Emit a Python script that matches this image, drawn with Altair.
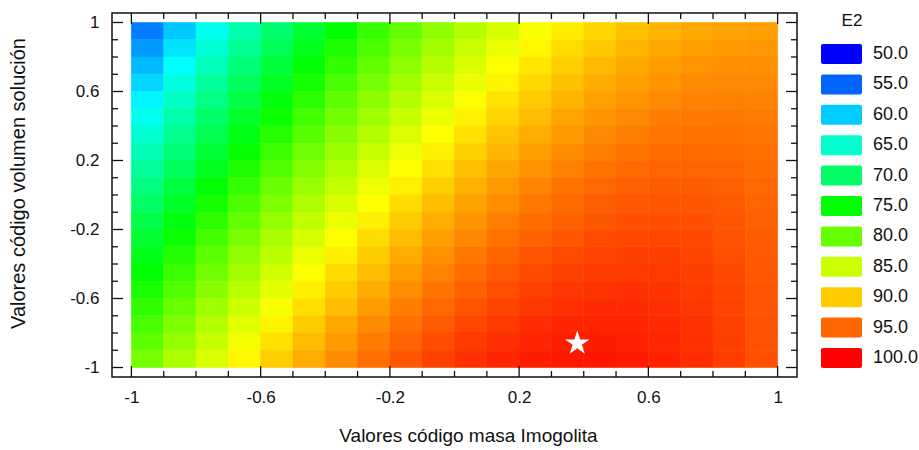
import altair as alt
import pandas as pd

# ---------------- data ----------------
x_centers = [-0.95, -0.85, -0.75, -0.65, -0.55, -0.45, -0.35, -0.25, -0.15, -0.05,
             0.05, 0.15, 0.25, 0.35, 0.45, 0.55, 0.65, 0.75, 0.85, 0.95]
y_centers = [0.95, 0.85, 0.75, 0.65, 0.55, 0.45, 0.35, 0.25, 0.15, 0.05,
             -0.05, -0.15, -0.25, -0.35, -0.45, -0.55, -0.65, -0.75, -0.85, -0.95]
e2_rows = [
    [56.2, 59.8, 63.3, 66.5, 69.6, 72.5, 75.1, 77.6, 79.9, 82.0, 83.9, 85.6, 87.1, 88.4, 89.5, 90.5, 91.2, 91.7, 92.1, 92.2],
    [57.6, 61.2, 64.6, 67.8, 70.8, 73.7, 76.3, 78.7, 80.9, 83.0, 84.8, 86.4, 87.9, 89.2, 90.2, 91.1, 91.7, 92.2, 92.5, 92.6],
    [59.1, 62.6, 66.0, 69.1, 72.1, 74.8, 77.4, 79.8, 81.9, 83.9, 85.7, 87.3, 88.7, 89.9, 90.9, 91.7, 92.3, 92.7, 92.9, 92.9],
    [60.5, 64.0, 67.3, 70.4, 73.3, 76.0, 78.5, 80.8, 82.9, 84.8, 86.5, 88.1, 89.4, 90.5, 91.5, 92.2, 92.8, 93.2, 93.3, 93.3],
    [62.0, 65.4, 68.6, 71.6, 74.5, 77.1, 79.6, 81.8, 83.9, 85.7, 87.4, 88.9, 90.1, 91.2, 92.1, 92.8, 93.3, 93.6, 93.7, 93.6],
    [63.3, 66.7, 69.9, 72.9, 75.6, 78.2, 80.6, 82.8, 84.8, 86.6, 88.2, 89.6, 90.8, 91.9, 92.7, 93.3, 93.8, 94.0, 94.1, 93.9],
    [64.7, 68.0, 71.1, 74.1, 76.8, 79.3, 81.6, 83.8, 85.7, 87.5, 89.0, 90.4, 91.5, 92.5, 93.3, 93.8, 94.2, 94.4, 94.4, 94.2],
    [66.1, 69.3, 72.4, 75.2, 77.9, 80.4, 82.6, 84.7, 86.6, 88.3, 89.8, 91.1, 92.2, 93.1, 93.8, 94.3, 94.7, 94.8, 94.7, 94.5],
    [67.4, 70.6, 73.6, 76.4, 79.0, 81.4, 83.6, 85.7, 87.5, 89.1, 90.6, 91.8, 92.8, 93.7, 94.3, 94.8, 95.1, 95.1, 95.0, 94.7],
    [68.7, 71.9, 74.8, 77.5, 80.1, 82.5, 84.6, 86.6, 88.3, 89.9, 91.3, 92.5, 93.5, 94.3, 94.9, 95.3, 95.5, 95.5, 95.3, 94.9],
    [70.0, 73.1, 76.0, 78.7, 81.2, 83.5, 85.6, 87.5, 89.2, 90.7, 92.0, 93.1, 94.1, 94.8, 95.4, 95.7, 95.8, 95.8, 95.6, 95.1],
    [71.3, 74.3, 77.1, 79.8, 82.2, 84.4, 86.5, 88.3, 90.0, 91.5, 92.7, 93.8, 94.7, 95.3, 95.8, 96.1, 96.2, 96.1, 95.8, 95.3],
    [72.6, 75.5, 78.3, 80.9, 83.2, 85.4, 87.4, 89.2, 90.8, 92.2, 93.4, 94.4, 95.2, 95.8, 96.3, 96.5, 96.5, 96.4, 96.0, 95.5],
    [73.8, 76.7, 79.4, 81.9, 84.2, 86.4, 88.3, 90.0, 91.6, 92.9, 94.1, 95.0, 95.8, 96.3, 96.7, 96.9, 96.9, 96.6, 96.2, 95.6],
    [75.0, 77.9, 80.5, 83.0, 85.2, 87.3, 89.2, 90.8, 92.3, 93.6, 94.7, 95.6, 96.3, 96.8, 97.1, 97.2, 97.2, 96.9, 96.4, 95.7],
    [76.2, 79.0, 81.6, 84.0, 86.2, 88.2, 90.0, 91.6, 93.1, 94.3, 95.3, 96.2, 96.8, 97.3, 97.5, 97.6, 97.4, 97.1, 96.6, 95.9],
    [77.4, 80.1, 82.7, 85.0, 87.1, 89.1, 90.8, 92.4, 93.8, 94.9, 95.9, 96.7, 97.3, 97.7, 97.9, 97.9, 97.7, 97.3, 96.7, 95.9],
    [78.5, 81.2, 83.7, 86.0, 88.1, 90.0, 91.7, 93.2, 94.5, 95.6, 96.5, 97.2, 97.8, 98.1, 98.2, 98.2, 97.9, 97.5, 96.8, 96.0],
    [79.7, 82.3, 84.7, 86.9, 89.0, 90.8, 92.4, 93.9, 95.1, 96.2, 97.1, 97.7, 98.2, 98.5, 98.6, 98.4, 98.1, 97.6, 96.9, 96.0],
    [80.8, 83.4, 85.7, 87.9, 89.9, 91.6, 93.2, 94.6, 95.8, 96.8, 97.6, 98.2, 98.6, 98.8, 98.9, 98.7, 98.3, 97.8, 97.0, 96.1],
]
legend_values = [50, 55, 60, 65, 70, 75, 80, 85, 90, 95, 100]
legend_colors = ["#0000FF", "#0066FF", "#00CCFF", "#00FFCC", "#00FF66", "#00FF00",
                 "#66FF00", "#CCFF00", "#FFCC00", "#FF6600", "#FF0000"]
major_ticks = [-1, -0.6, -0.2, 0.2, 0.6, 1]
minor_ticks = [-0.9, -0.8, -0.7, -0.5, -0.4, -0.3, -0.1, 0, 0.1, 0.3, 0.4, 0.5, 0.7, 0.8, 0.9]
star_x = [0.38]
star_y = [-0.86]
legend_title = ["E2"]

# ---------------- build tables ----------------
rows = []
for yi, yv in enumerate(y_centers):
    for xi, xv in enumerate(x_centers):
        rows.append({"x": xv, "y": yv, "E2": e2_rows[yi][xi]})
grid = pd.DataFrame(rows)
leg_df = pd.DataFrame({"lv": legend_values})
major_df = pd.DataFrame({"t": major_ticks})
minor_df = pd.DataFrame({"t": minor_ticks})
star_df = pd.DataFrame({"sx": star_x, "sy": star_y})
title_df = pd.DataFrame({"t": legend_title})

W, H = 685, 364
FONT = "Liberation Sans"
xs = alt.Scale(domain=[-1.06, 1.06], nice=False, zero=False)
ys = alt.Scale(domain=[-1.055, 1.055], nice=False, zero=False)
cscale = alt.Scale(domain=legend_values, range=legend_colors, interpolate="hsl")

x_axis = alt.Axis(
    values=major_ticks, labelExpr="'' + datum.value", ticks=False, tickSize=0,
    domain=False, grid=False, labelFont=FONT, labelFontSize=17, labelColor="#111",
    labelPadding=12, title="Valores código masa Imogolita", titleFont=FONT,
    titleFontSize=19, titleFontWeight="normal", titleColor="#111",
    titleX=356, titleY=64, titleBaseline="alphabetic", titleAlign="center")
y_axis = alt.Axis(
    values=major_ticks, labelExpr="'' + datum.value", ticks=False, tickSize=0,
    domain=False, grid=False, labelFont=FONT, labelFontSize=17, labelColor="#111",
    labelPadding=13, title="Valores código volumen solución", titleFont=FONT,
    titleFontSize=20, titleFontWeight="normal", titleColor="#111",
    titleX=-94, titleY=170, titleBaseline="middle", titleAlign="center", titleAngle=270)

heat = alt.Chart(grid).transform_calculate(
    x0="datum.x - 0.05", x1="datum.x + 0.05",
    y0="datum.y - 0.05", y1="datum.y + 0.05",
).mark_rect(strokeWidth=0.6).encode(
    x=alt.X("x0:Q", scale=xs, axis=x_axis),
    x2="x1:Q",
    y=alt.Y("y0:Q", scale=ys, axis=y_axis),
    y2="y1:Q",
    color=alt.Color("E2:Q", scale=cscale, legend=None),
    stroke=alt.Stroke("E2:Q", scale=cscale, legend=None),
)

def xticks(df, length):
    b = alt.Chart(df).mark_rule(color="#111", strokeWidth=1.3).encode(
        x=alt.X("t:Q", scale=xs, axis=x_axis), y=alt.value(H), y2=alt.value(H - length))
    t = alt.Chart(df).mark_rule(color="#111", strokeWidth=1.3).encode(
        x=alt.X("t:Q", scale=xs, axis=x_axis), y=alt.value(0), y2=alt.value(length))
    return [b, t]

def yticks(df, length):
    l = alt.Chart(df).mark_rule(color="#111", strokeWidth=1.3).encode(
        y=alt.Y("t:Q", scale=ys, axis=y_axis), x=alt.value(0), x2=alt.value(length))
    r = alt.Chart(df).mark_rule(color="#111", strokeWidth=1.3).encode(
        y=alt.Y("t:Q", scale=ys, axis=y_axis), x=alt.value(W), x2=alt.value(W - length))
    return [l, r]

star_path = ("M0,-1L0.2245,-0.309L0.951,-0.309L0.3633,0.118L0.5878,0.809L0,0.382"
             "L-0.5878,0.809L-0.3633,0.118L-0.951,-0.309L-0.2245,-0.309Z")
star = alt.Chart(star_df).mark_point(
    shape=star_path, filled=True, color="white", opacity=1, size=650, strokeWidth=0
).encode(x=alt.X("sx:Q", scale=xs, axis=x_axis), y=alt.Y("sy:Q", scale=ys, axis=y_axis))

main = alt.layer(heat, *xticks(major_df, 11), *xticks(minor_df, 6),
                 *yticks(major_df, 11), *yticks(minor_df, 6), star)

band = alt.Scale(domain=legend_values, range=[25.8, 360.2], paddingInner=0.342, paddingOuter=0.171)
leg_rect = alt.Chart(leg_df).mark_rect(cornerRadius=2).encode(
    y=alt.Y("lv:O", scale=band, axis=None),
    x=alt.value(709), x2=alt.value(750),
    color=alt.Color("lv:Q", scale=cscale, legend=None),
)
leg_text = alt.Chart(leg_df).mark_text(align="left", baseline="middle", font=FONT,
                                       fontSize=18, color="#111").encode(
    y=alt.Y("lv:O", scale=band, axis=None),
    x=alt.value(761),
    text=alt.Text("lv:Q", format=".1f"),
)
leg_title = alt.Chart(title_df).mark_text(align="center", baseline="middle", font=FONT,
                                          fontSize=17, color="#111").encode(
    x=alt.value(740), y=alt.value(8), text="t:N")
legend = alt.layer(leg_rect, leg_text, leg_title)

chart = alt.layer(main, legend).resolve_scale(x="independent", y="independent").properties(
    width=W, height=H,
    autosize=alt.AutoSizeParams(type="none"),
    padding={"left": 112, "top": 13, "right": 919 - 112 - W, "bottom": 450 - 13 - H},
    background="white",
).configure_view(stroke="#111", strokeWidth=1.5)

chart.save("out.html", embed_options={"renderer": "svg", "actions": False})
